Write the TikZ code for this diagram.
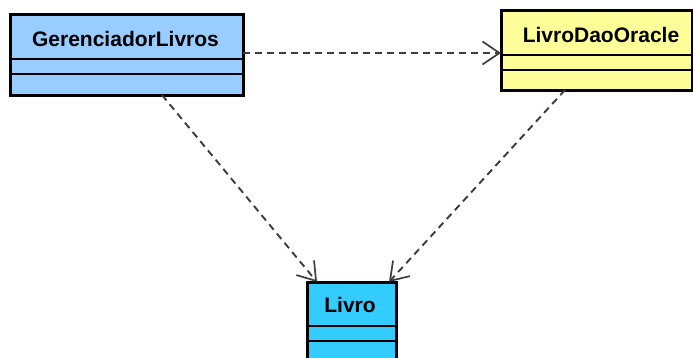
\documentclass[tikz,border=0pt]{standalone}
\usepackage{fontspec}
\setmainfont{Liberation Sans}
\usetikzlibrary{arrows.meta}
\definecolor{mgrblue}{HTML}{99CCFF}
\definecolor{daoyellow}{HTML}{FFFF99}
\definecolor{entcyan}{HTML}{33CCFF}
\definecolor{depgray}{HTML}{3C3C3C}
\tikzset{
  classbox/.style={draw=black, line width=3pt},
  sepline/.style={draw=black, line width=1.4pt},
  classname/.style={font=\bfseries\fontsize{21}{21}\selectfont, inner sep=0pt},
  dependency/.style={draw=depgray, line width=1.9pt, dash pattern=on 7pt off 5pt,
    -{Straight Barb[length=17pt,width=23pt,line width=1.7pt]}},
}
\begin{document}
\begin{tikzpicture}[x=1pt,y=1pt]
\useasboundingbox (0,0) rectangle (693,357);
\clip (0,0) rectangle (693,357);
% GerenciadorLivros
\filldraw[classbox, fill=mgrblue] (10,262) rectangle (243,342);
\draw[sepline] (10,298) -- (243,298);
\draw[sepline] (10,283) -- (243,283);
\node[classname] (mgr) at (125.5,318) {GerenciadorLivros};
\coordinate (mgrR) at (243,304);
\coordinate (mgrB) at (162,262);
% LivroDaoOracle
\filldraw[classbox, fill=daoyellow] (501,267) rectangle (692,346);
\draw[sepline] (501,302) -- (692,302);
\draw[sepline] (501,287) -- (692,287);
\node[classname] (dao) at (601,322) {LivroDaoOracle};
\coordinate (daoL) at (501,304);
\coordinate (daoB) at (565,267);
% Livro
\filldraw[classbox, fill=entcyan] (307,75) rectangle (396,-4);
\draw[sepline] (307,31) -- (396,31);
\draw[sepline] (307,16) -- (396,16);
\node[classname] (livro) at (350,52) {Livro};
\coordinate (livroL) at (317,75);
\coordinate (livroR) at (389,75);
% dependencies
\draw[dependency] (mgrR) -- (daoL);
\draw[dependency] (mgrB) -- (livroL);
\draw[dependency] (daoB) -- (livroR);
\end{tikzpicture}
\end{document}
